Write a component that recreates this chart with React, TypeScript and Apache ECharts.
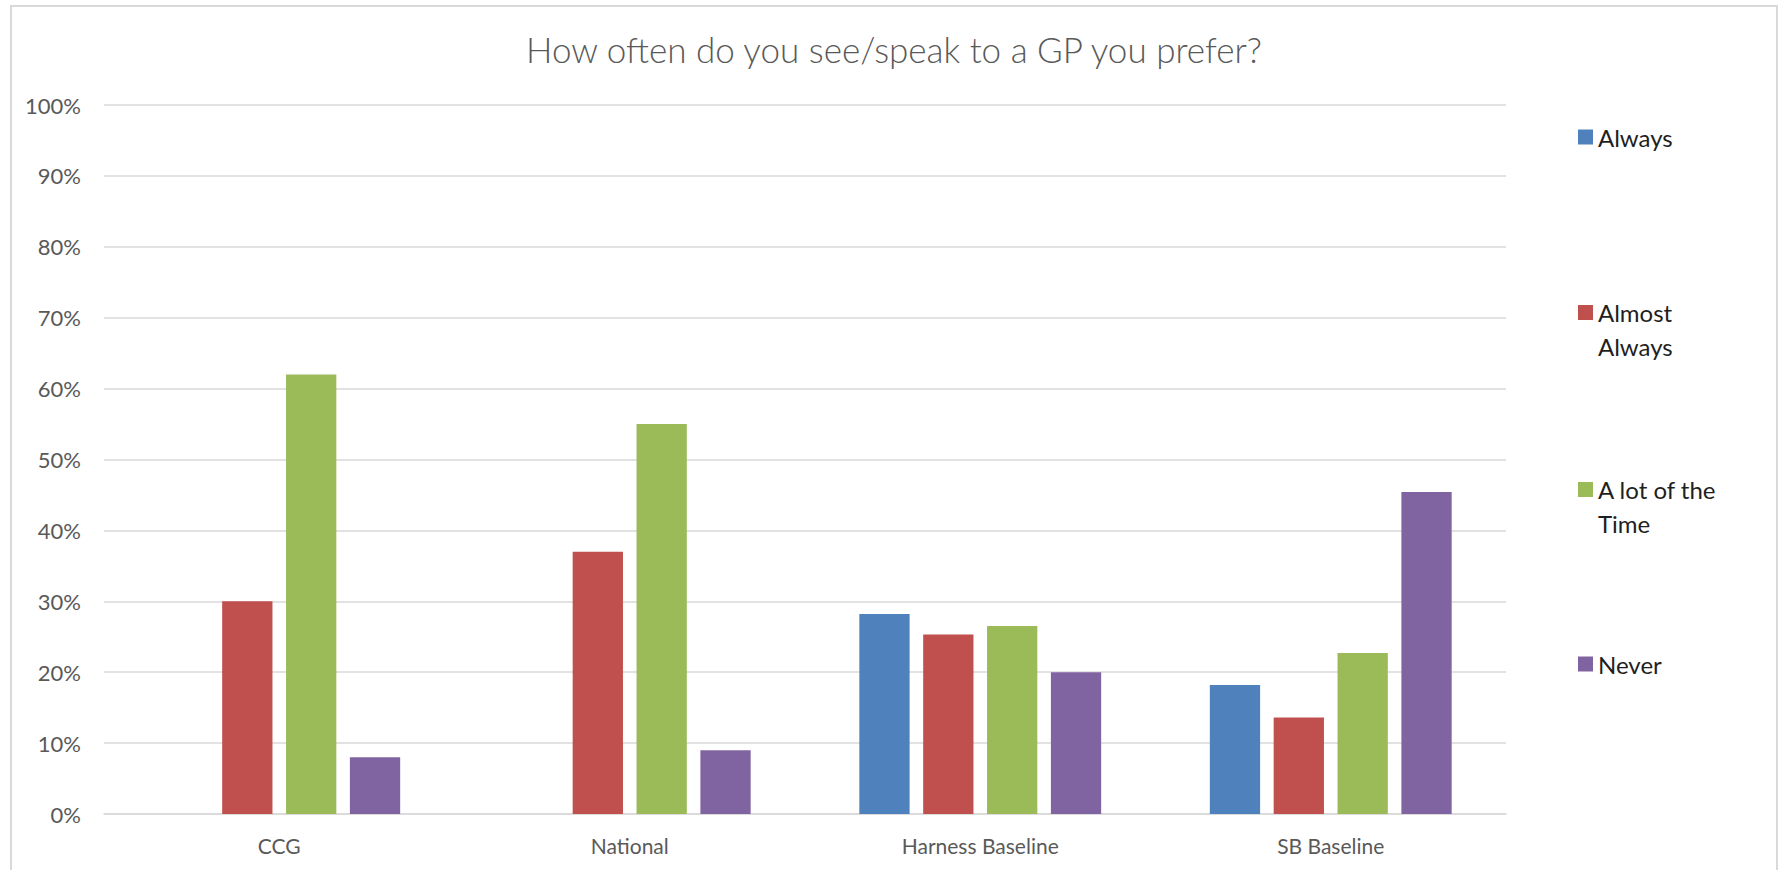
import React, { useEffect, useRef } from "react";
import * as echarts from "echarts";

const titleText = "How often do you see/speak to a GP you prefer?";
const categories = ["CCG", "National", "Harness Baseline", "SB Baseline"];
const seriesNames = ["Always", "Almost Always", "A lot of the Time", "Never"];
const legendLabels = ["Always", "Almost\nAlways", "A lot of the\nTime", "Never"];
const always = [null, null, 28.2, 18.2];
const almostAlways = [30, 37, 25.3, 13.6];
const aLotOfTheTime = [62, 55, 26.5, 22.7];
const never = [8, 9, 20, 45.4];
const seriesValues = [always, almostAlways, aLotOfTheTime, never];
const colors = ["#4F81BD", "#C0504D", "#9BBB59", "#8064A2"];
const yMax = 100;
const yInterval = 10;

export default function App() {
  const ref = useRef<HTMLDivElement>(null);
  useEffect(() => {
    if (!ref.current) return;
    const chart = echarts.init(ref.current, null, { renderer: "svg" });
    const legendTops = [120, 295, 472, 647];
    const twoLineIcon = "path://M0 0H15V15H0ZM0 48H0.01V48.01H0Z";
    const legends = seriesNames.map((name, i) => {
      const twoLine = legendLabels[i].includes("\n");
      return {
        show: true,
        left: 1578,
        top: legendTops[i],
        padding: 0,
        orient: "vertical",
        selectedMode: false,
        itemWidth: 15,
        itemHeight: twoLine ? 48 : 15,
        data: [{ name, icon: twoLine ? twoLineIcon : "rect" }],
        formatter: (n: string) => legendLabels[seriesNames.indexOf(n)],
        textStyle: {
          fontFamily: "Lato",
          fontSize: 24,
          lineHeight: 34,
          color: "#1f1f1f",
        },
      };
    });
    chart.setOption({
      animation: false,
      backgroundColor: "#ffffff",
      color: colors,
      title: {
        text: titleText,
        left: 894,
        top: 31,
        padding: 0,
        textAlign: "center",
        textStyle: {
          fontFamily: "Lato",
          fontWeight: 300,
          fontSize: 35,
          color: "#595959",
        },
      },
      legend: legends,
      grid: { left: 104, right: 275, top: 105, bottom: 56 },
      xAxis: {
        type: "category",
        data: categories,
        axisTick: { show: false },
        axisLine: { lineStyle: { color: "#D9D9D9", width: 1.5 } },
        axisLabel: {
          margin: 21,
          fontFamily: "Lato",
          fontSize: 21,
          color: "#595959",
        },
      },
      yAxis: {
        type: "value",
        min: 0,
        max: yMax,
        interval: yInterval,
        axisLine: { show: false },
        axisTick: { show: false },
        splitLine: { lineStyle: { color: "#D9D9D9", width: 1.5 } },
        axisLabel: {
          margin: 23,
          formatter: "{value}%",
          fontFamily: "Lato",
          fontSize: 22,
          color: "#595959",
        },
      },
      graphic: [
        {
          type: "rect",
          shape: { x: 11, y: 6, width: 1766, height: 900 },
          style: { fill: "none", stroke: "#D9D9D9", lineWidth: 2 },
          silent: true,
          z: -1,
        },
      ],
      series: seriesNames.map((name, i) => ({
        name,
        type: "bar",
        data: seriesValues[i],
        barGap: "27%",
        barCategoryGap: "31%",
        itemStyle: { color: colors[i] },
      })),
    });
    return () => chart.dispose();
  }, []);
  return (
    <div
      ref={ref}
      style={{ position: "fixed", left: 0, top: 0, width: 1781, height: 870 }}
    />
  );
}
